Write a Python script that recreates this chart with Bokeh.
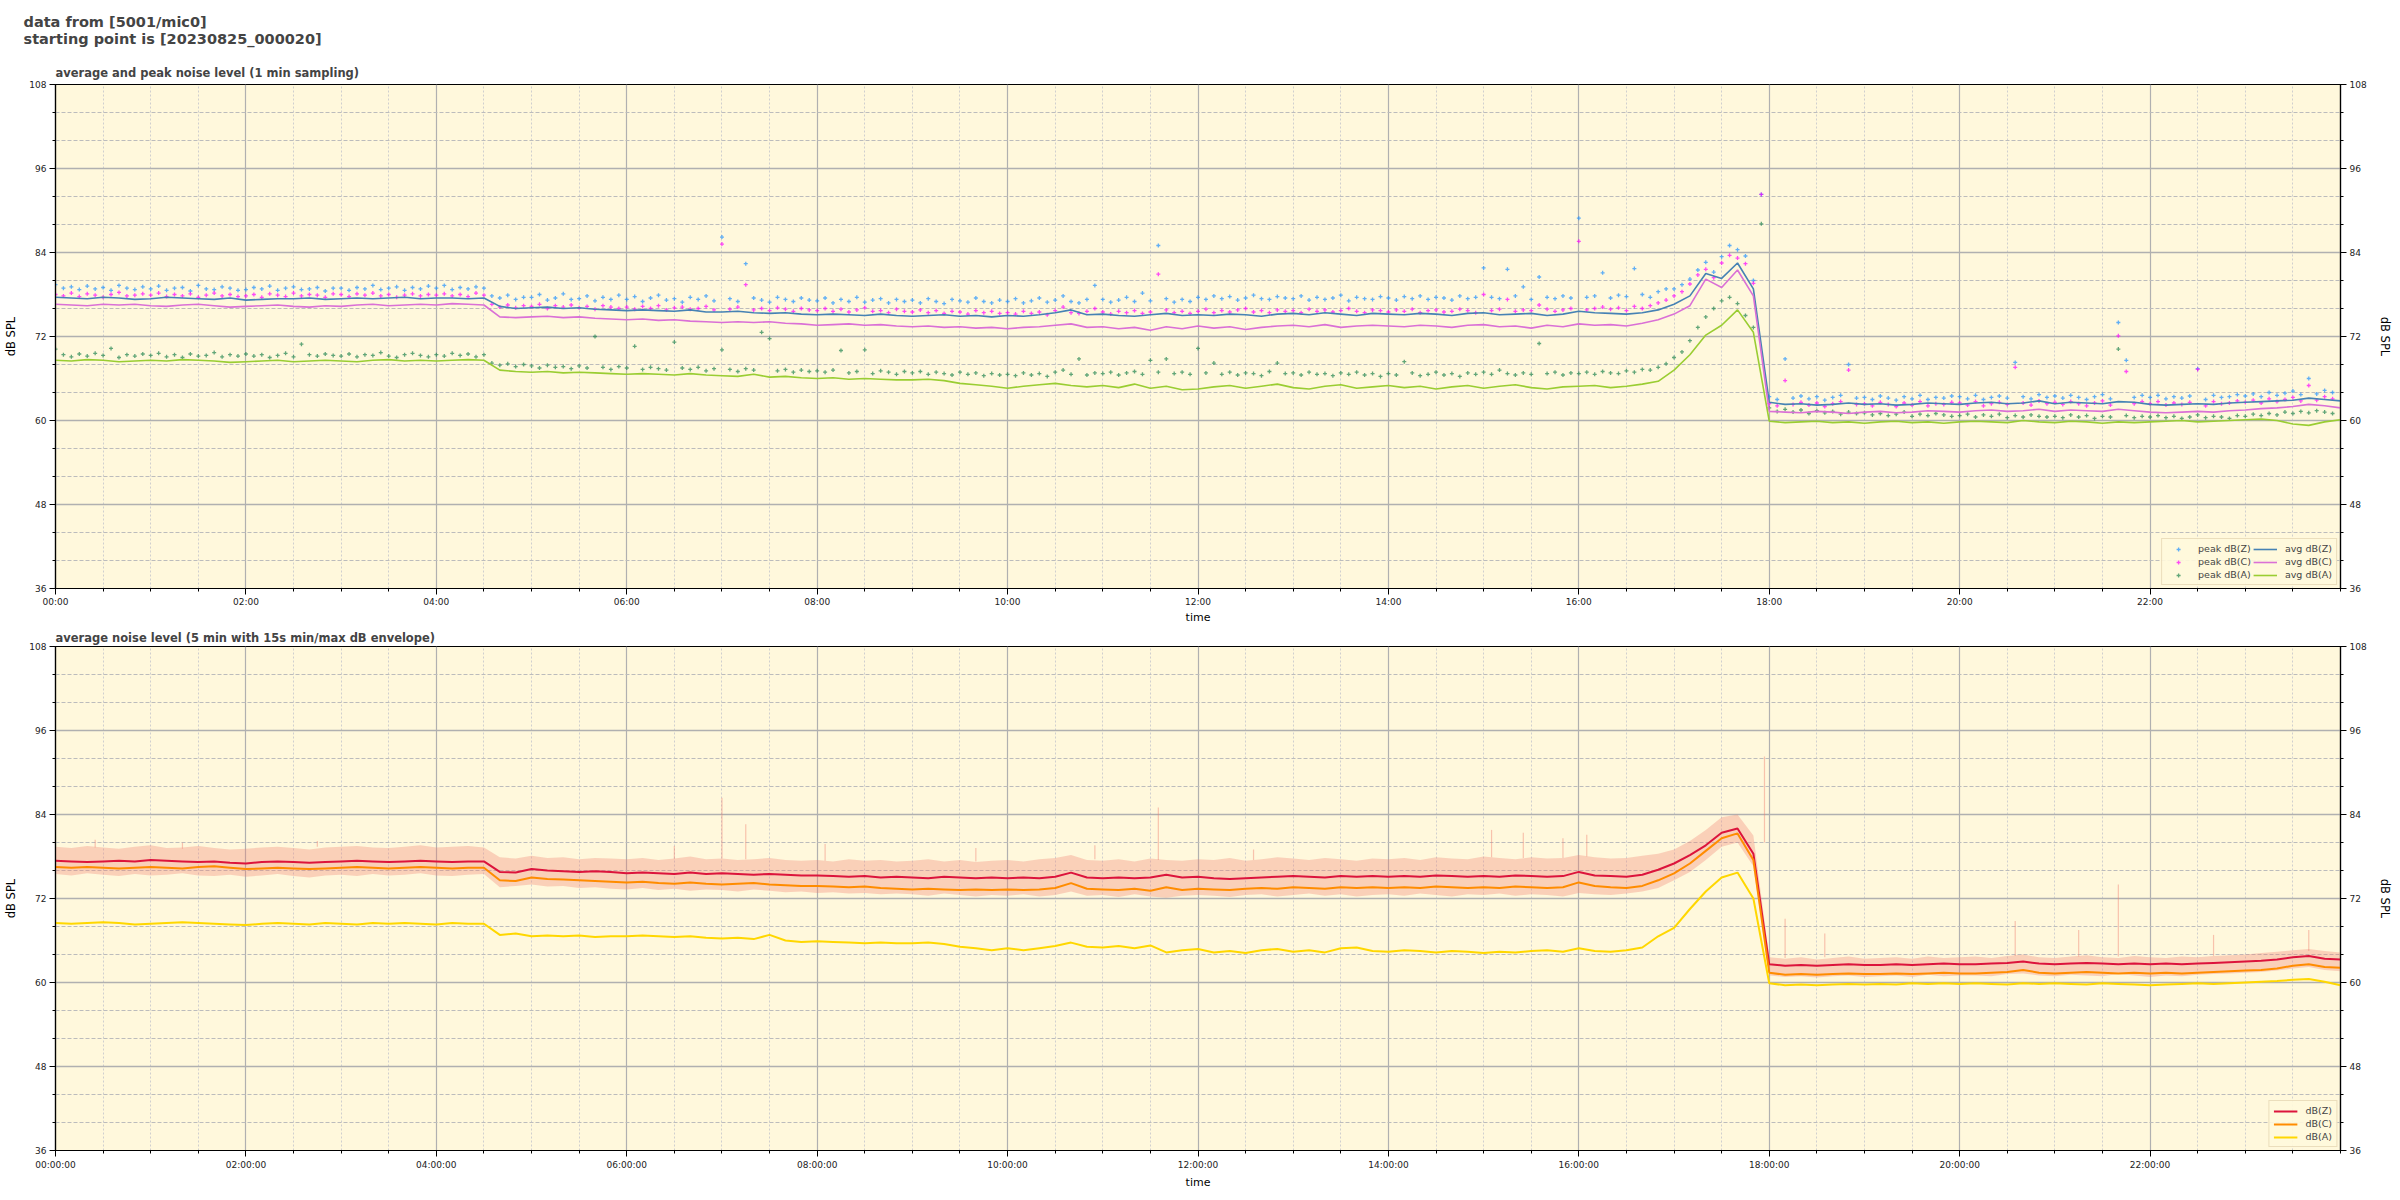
import math
from bokeh.plotting import figure
from bokeh.models import FixedTicker, LinearAxis, Range1d, Title, Legend, LegendItem
from bokeh.layouts import column
from bokeh.embed import file_html
from bokeh.resources import INLINE

# ---------------- data ----------------
main_title = "data from [5001/mic0]\nstarting point is [20230825_000020]"
title_top = "average and peak noise level (1 min sampling)"
title_bottom = "average noise level (5 min with 15s min/max dB envelope)"

x_ticks_h = [0, 2, 4, 6, 8, 10, 12, 14, 16, 18, 20, 22]
x_labels_top = ["00:00", "02:00", "04:00", "06:00", "08:00", "10:00",
                "12:00", "14:00", "16:00", "18:00", "20:00", "22:00"]
x_labels_bottom = ["00:00:00", "02:00:00", "04:00:00", "06:00:00", "08:00:00", "10:00:00",
                   "12:00:00", "14:00:00", "16:00:00", "18:00:00", "20:00:00", "22:00:00"]
y_ticks = [36, 48, 60, 72, 84, 96, 108]

minutes10 = list(range(0, 1441, 10))   # 145 samples
minutes5 = list(range(0, 1440, 5))     # 288 samples

# top plot: averages (10 min resolution)
avg_z = [
    77.6, 77.5, 77.4, 77.6, 77.5, 77.3, 77.4, 77.6, 77.5, 77.4, 77.3, 77.5, 77.2, 77.3,
    77.4, 77.4, 77.5, 77.3, 77.4, 77.5, 77.4, 77.5, 77.6, 77.4, 77.5, 77.5, 77.4, 77.5,
    76.3, 76.0, 76.1, 76.2, 76.0, 76.1, 75.9, 75.8, 75.7, 75.8, 75.7, 75.6, 75.8, 75.5, 75.5,
    75.6, 75.4, 75.3, 75.4, 75.2, 75.1, 75.2, 75.1, 75.0, 75.2, 75.0, 74.9, 75.0, 75.1, 74.9,
    75.0, 74.8, 75.0, 74.9, 75.1, 75.4, 75.8, 75.1, 75.2, 75.0, 74.9, 75.1, 75.3, 75.0, 75.1,
    75.0, 75.2, 75.1, 74.9, 75.2, 75.3, 75.1, 75.4, 75.2, 75.0, 75.3, 75.2, 75.1, 75.3, 75.2,
    75.0, 75.3, 75.4, 75.1, 75.2, 75.3, 75.0, 75.2, 75.6, 75.4, 75.3, 75.2, 75.4, 75.8,
    76.6, 77.8, 81.0, 80.3, 82.5, 78.8, 62.6,
    62.3, 62.4, 62.2, 62.3, 62.5, 62.3, 62.4, 62.2, 62.3, 62.5, 62.4, 62.3, 62.5, 62.6, 62.4,
    62.5, 62.8, 62.4, 62.6, 62.5, 62.4, 62.7, 62.6, 62.3, 62.2, 62.3, 62.4, 62.3, 62.5, 62.6,
    62.7, 62.8, 62.9, 63.2, 63.0, 62.8]
avg_c = [
    76.6, 76.5, 76.4, 76.6, 76.5, 76.6, 76.4, 76.3, 76.5, 76.6, 76.4, 76.2, 76.3, 76.4,
    76.5, 76.3, 76.2, 76.4, 76.3, 76.5, 76.6, 76.4, 76.5, 76.6, 76.5, 76.7, 76.6, 76.5,
    74.8, 74.7, 74.8, 74.9, 74.7, 74.8, 74.6, 74.5, 74.4, 74.5, 74.3, 74.4, 74.2, 74.1, 74.0,
    74.1, 74.0, 74.1, 73.9, 73.8, 73.6, 73.7, 73.8, 73.6, 73.7, 73.5, 73.4, 73.5, 73.3, 73.4,
    73.2, 73.3, 73.1, 73.3, 73.4, 73.6, 73.8, 73.3, 73.4, 73.1, 73.3, 72.9, 73.4, 73.1, 73.5,
    73.2, 73.4, 73.0, 73.3, 73.5, 73.6, 73.4, 73.7, 73.3, 73.5, 73.6, 73.5, 73.4, 73.6, 73.5,
    73.3, 73.6, 73.7, 73.4, 73.5, 73.2, 73.6, 73.4, 73.8, 73.6, 73.7, 73.5, 73.9, 74.4,
    75.2, 76.4, 80.2, 79.0, 81.5, 77.8, 61.3,
    61.2, 61.1, 61.3, 61.2, 61.0, 61.2, 61.3, 61.1, 61.2, 61.4, 61.3, 61.2, 61.4, 61.5, 61.3,
    61.4, 61.6, 61.3, 61.5, 61.4, 61.3, 61.6, 61.4, 61.2, 61.1, 61.2, 61.3, 61.2, 61.4, 61.5,
    61.7, 61.8, 62.0, 62.3, 62.1, 61.8]
avg_a = [
    68.6, 68.5, 68.7, 68.6, 68.4, 68.5, 68.6, 68.5, 68.7, 68.6, 68.5, 68.3, 68.4, 68.5,
    68.6, 68.4, 68.5, 68.6, 68.5, 68.4, 68.6, 68.7, 68.5, 68.6, 68.5, 68.6, 68.7, 68.6,
    67.2, 67.0, 66.9, 67.0, 66.8, 66.9, 66.8, 66.7, 66.6, 66.7, 66.6, 66.5, 66.7, 66.5, 66.4,
    66.3, 66.6, 66.2, 66.3, 66.1, 66.0, 66.1, 65.9, 66.0, 65.9, 65.8, 65.8, 65.9, 65.7, 65.3,
    65.1, 64.9, 64.6, 64.9, 65.1, 65.3, 65.0, 64.8, 65.0, 64.7, 65.2, 64.6, 64.9, 64.4, 64.5,
    64.8, 65.0, 64.6, 64.9, 65.2, 64.7, 64.5, 64.9, 65.1, 64.6, 64.8, 65.0, 64.7, 64.9, 64.5,
    64.8, 65.0, 64.6, 64.9, 65.1, 64.7, 64.5, 64.8, 64.9, 65.0, 64.7, 64.9, 65.2, 65.6,
    67.2, 69.4, 72.2, 73.6, 75.8, 72.6, 59.9,
    59.7, 59.8, 59.9, 59.7, 59.8, 59.6, 59.8, 59.9, 59.7, 59.8, 59.6, 59.8, 59.9, 59.8, 59.7,
    60.0, 59.8, 59.7, 59.9, 59.8, 59.6, 59.8, 59.7, 59.8, 59.9, 60.0, 59.8, 59.9, 60.0, 60.1,
    60.2, 60.0, 59.5, 59.3, 59.8, 60.1]

# top plot: peaks (5 min resolution, one row per hour)
peak_z = [
    79.4, 78.9, 79.1, 78.7, 79.2, 78.8, 79.0, 78.6, 79.3, 78.9, 78.7, 79.1,
    78.8, 79.2, 78.6, 78.9, 79.0, 78.5, 79.3, 78.8, 78.7, 79.1, 78.9, 78.6,
    78.7, 79.0, 78.8, 79.2, 78.6, 78.9, 79.1, 78.7, 78.8, 79.0, 78.5, 78.9,
    78.9, 78.6, 79.0, 78.8, 79.3, 78.7, 78.9, 79.1, 78.6, 79.0, 78.8, 79.2,
    78.9, 79.3, 78.7, 79.0, 78.8, 79.1, 78.9, 77.8, 77.5, 77.9, 77.3, 77.6,
    77.6, 78.0, 77.2, 77.5, 78.1, 77.3, 77.4, 77.8, 77.1, 77.6, 77.3, 77.9,
    77.3, 77.7, 77.0, 77.5, 77.9, 77.2, 77.4, 76.9, 77.6, 77.3, 77.8, 77.1,
    86.2, 77.4, 77.0, 82.4, 77.5, 77.2, 76.9, 77.6, 77.3, 77.0, 77.5, 77.2,
    77.1, 77.5, 76.8, 77.3, 77.0, 77.6, 76.9, 77.2, 77.4, 76.8, 77.3, 77.0,
    77.2, 76.8, 77.4, 77.0, 76.7, 77.3, 77.1, 76.9, 77.5, 77.0, 76.8, 77.2,
    77.0, 77.4, 76.8, 77.1, 77.5, 76.9, 77.2, 77.8, 77.0, 76.8, 77.3, 79.3,
    77.3, 76.9, 77.2, 77.6, 77.0, 78.2, 77.1, 85.0, 77.4, 76.9, 77.3, 77.0,
    77.6, 77.3, 77.8, 77.4, 77.7, 77.2, 77.5, 77.9, 77.4, 77.3, 77.7, 77.5,
    77.4, 77.8, 77.2, 77.6, 77.3, 77.5, 77.9, 77.1, 77.6, 77.4, 77.3, 77.7,
    77.5, 77.2, 77.7, 77.4, 77.8, 77.3, 77.6, 77.5, 77.2, 77.8, 77.4, 77.6,
    81.8, 77.6, 77.4, 81.6, 77.8, 79.1, 77.3, 80.5, 77.6, 77.4, 77.8, 77.5,
    88.9, 77.6, 77.8, 81.1, 77.5, 77.9, 77.7, 81.7, 78.0, 77.6, 78.4, 78.8,
    78.8, 79.4, 80.2, 81.5, 82.6, 81.2, 83.4, 85.0, 84.4, 83.5, 80.0, 92.3,
    63.4, 63.0, 68.8, 63.2, 63.5, 63.1, 63.4, 62.9, 63.3, 63.6, 68.0, 63.2,
    63.3, 63.0, 63.5, 63.2, 62.9, 63.4, 63.1, 63.6, 63.0, 63.3, 63.2, 63.5,
    63.4, 63.1, 63.6, 63.0, 63.3, 63.5, 63.2, 68.3, 63.4, 63.1, 63.7, 63.3,
    63.5, 63.2, 63.6, 63.3, 63.0, 63.4, 63.7, 63.1, 74.0, 68.6, 63.3, 63.6,
    63.3, 63.6, 63.1, 63.4, 63.2, 63.5, 67.4, 63.0, 63.6, 63.3, 63.4, 63.7,
    63.5, 63.8, 63.4, 64.0, 63.6, 63.9, 64.2, 63.7, 66.0, 63.8, 64.3, 64.0]
peak_c = [
    78.0, 77.8, 78.2, 77.7, 78.1, 77.9, 77.6, 78.0, 78.3, 77.8, 77.9, 78.1,
    77.9, 78.2, 77.7, 78.0, 77.8, 78.1, 77.6, 77.9, 78.2, 77.8, 78.0, 77.7,
    77.8, 78.0, 77.6, 78.1, 77.9, 77.7, 78.2, 77.8, 78.0, 77.9, 77.6, 78.1,
    78.0, 77.7, 78.1, 77.9, 78.2, 77.8, 78.0, 77.6, 77.9, 78.1, 77.8, 78.0,
    77.9, 78.1, 77.8, 78.0, 77.7, 78.2, 77.9, 76.6, 76.2, 76.5, 76.1, 76.4,
    76.3, 76.6, 76.0, 76.4, 76.2, 76.5, 76.1, 76.3, 75.9, 76.4, 76.2, 76.0,
    76.2, 75.9, 76.3, 76.0, 76.4, 75.8, 76.1, 76.2, 75.9, 76.0, 76.3, 75.8,
    85.2, 75.9, 76.2, 79.4, 75.8, 76.0, 75.7, 76.1, 75.9, 75.6, 76.0, 75.8,
    75.7, 76.0, 75.6, 75.9, 75.5, 75.8, 76.1, 75.6, 75.7, 75.4, 75.9, 75.6,
    75.5, 75.8, 75.4, 75.7, 75.3, 75.6, 75.5, 75.2, 75.7, 75.4, 75.6, 75.3,
    75.4, 75.2, 75.6, 75.3, 75.5, 75.1, 75.7, 76.2, 75.4, 75.3, 75.6, 76.0,
    75.5, 75.2, 75.6, 75.4, 75.7, 75.3, 75.5, 80.9, 75.8, 75.4, 75.6, 75.3,
    75.6, 75.9, 75.4, 75.7, 75.5, 75.8, 76.0, 75.5, 75.7, 75.4, 75.8, 75.6,
    75.7, 75.4, 75.9, 75.6, 75.8, 75.5, 75.7, 76.0, 75.6, 75.4, 75.8, 75.7,
    75.5, 75.8, 75.6, 75.9, 75.4, 75.7, 75.8, 75.5, 75.6, 75.9, 75.7, 75.4,
    78.0, 75.7, 75.9, 77.3, 75.6, 75.8, 75.7, 76.5, 75.9, 75.6, 75.8, 76.0,
    85.6, 75.8, 76.0, 76.2, 75.9, 76.1, 75.7, 76.3, 76.0, 76.4, 76.8, 77.2,
    77.8, 78.4, 79.5, 80.8, 81.6, 80.4, 82.5, 83.6, 83.2, 82.4, 79.6, 92.3,
    62.4, 62.1, 65.7, 62.3, 62.6, 62.2, 62.5, 62.0, 62.4, 62.7, 67.2, 62.3,
    62.4, 62.1, 62.6, 62.3, 62.0, 62.5, 62.2, 62.7, 62.1, 62.4, 62.3, 62.6,
    62.5, 62.2, 62.7, 62.1, 62.4, 62.6, 62.3, 67.6, 62.5, 62.2, 62.8, 62.4,
    62.6, 62.3, 62.7, 62.4, 62.1, 62.5, 62.8, 62.2, 72.1, 67.0, 62.4, 62.7,
    62.4, 62.7, 62.2, 62.5, 62.3, 62.6, 67.3, 62.1, 62.7, 62.4, 62.5, 62.8,
    62.6, 62.9, 62.5, 63.1, 62.7, 63.0, 63.3, 62.8, 65.0, 62.9, 63.4, 63.1]
peak_a = [
    70.2, 69.4, 69.1, 69.5, 69.2, 69.6, 69.3, 70.3, 69.0, 69.4, 69.2, 69.5,
    69.3, 69.6, 69.1, 69.4, 69.0, 69.5, 69.2, 69.3, 69.7, 69.1, 69.4, 69.2,
    69.5, 69.2, 69.4, 69.0, 69.3, 69.6, 69.1, 70.9, 69.4, 69.2, 69.5, 69.3,
    69.2, 69.5, 69.1, 69.4, 69.3, 69.7, 69.2, 69.0, 69.4, 69.6, 69.3, 69.1,
    69.4, 69.2, 69.6, 69.3, 69.5, 69.1, 69.4, 68.2, 67.9, 68.1, 67.7, 68.0,
    67.8, 67.5, 67.9, 67.6, 67.7, 67.4, 67.8, 67.5, 72.0, 67.6, 67.3, 67.7,
    67.5, 70.6, 67.3, 67.6, 67.4, 67.2, 71.2, 67.5, 67.3, 67.6, 67.1, 67.4,
    70.1, 67.3, 67.0, 67.4, 67.2, 72.6, 71.7, 67.1, 67.3, 66.9, 67.2, 67.0,
    67.1, 66.9, 67.2, 70.0, 66.8, 67.0, 70.1, 66.7, 67.1, 66.9, 66.6, 67.0,
    66.8, 67.0, 66.6, 66.9, 66.7, 66.5, 66.9, 66.6, 66.8, 66.4, 66.7, 66.5,
    66.6, 66.4, 66.8, 66.5, 66.7, 66.3, 66.9, 67.2, 66.6, 68.8, 66.5, 66.8,
    66.7, 66.9, 66.5, 66.8, 67.0, 66.6, 68.6, 66.9, 68.8, 66.7, 66.9, 66.6,
    70.3, 66.8, 68.2, 66.6, 66.9, 66.5, 66.8, 66.7, 66.4, 67.0, 68.2, 66.7,
    66.8, 66.5, 66.9, 66.6, 66.7, 66.4, 66.8, 66.6, 66.9, 66.5, 66.7, 66.3,
    66.7, 66.5, 68.4, 66.8, 66.4, 66.6, 66.9, 66.5, 66.7, 66.3, 66.8, 66.6,
    66.9, 66.6, 67.2, 66.7, 66.5, 66.8, 66.6, 71.0, 66.7, 66.9, 66.5, 66.8,
    66.7, 66.9, 66.6, 67.0, 66.8, 66.7, 67.1, 66.9, 67.3, 67.2, 67.6, 68.1,
    69.0, 69.8, 71.4, 73.3, 74.8, 76.0, 77.1, 77.6, 76.7, 75.0, 73.3, 88.1,
    61.8, 61.3, 61.6, 61.2, 61.5, 61.0, 61.4, 61.1, 61.3, 60.9, 61.2, 61.0,
    61.1, 60.8, 61.0, 60.7, 60.9, 61.2, 60.6, 60.9, 60.7, 61.0, 60.8, 60.6,
    60.7, 60.9, 60.5, 60.8, 60.6, 60.9, 60.4, 60.7, 60.5, 60.8, 60.6, 60.5,
    60.6, 60.4, 60.8, 60.5, 60.7, 60.3, 60.6, 60.5, 70.2, 60.7, 60.4, 60.6,
    60.5, 60.7, 60.4, 60.6, 60.3, 60.5, 60.8, 60.4, 60.6, 60.5, 60.3, 60.7,
    60.6, 60.9, 60.7, 61.0, 60.8, 61.2, 61.0, 61.3, 61.1, 61.4, 61.2, 61.0]

# bottom plot: 5-min averages (read every 10 min)
lvl_z = [
    77.4, 77.3, 77.2, 77.3, 77.4, 77.3, 77.5, 77.4, 77.3, 77.2, 77.3, 77.1, 77.0, 77.2,
    77.3, 77.2, 77.1, 77.2, 77.3, 77.4, 77.3, 77.2, 77.3, 77.4, 77.3, 77.2, 77.3, 77.3,
    75.8, 75.7, 76.2, 76.0, 75.9, 75.8, 75.9, 75.8, 75.6, 75.7, 75.6, 75.5, 75.7, 75.5, 75.6,
    75.5, 75.4, 75.5, 75.4, 75.3, 75.3, 75.2, 75.1, 75.2, 75.0, 75.1, 75.0, 74.9, 75.1, 75.0,
    74.9, 75.0, 74.9, 75.0, 74.9, 75.1, 75.7, 75.0, 74.9, 75.0, 74.9, 75.0, 75.4, 75.0, 75.1,
    74.9, 74.8, 74.9, 75.0, 75.1, 75.2, 75.1, 75.0, 75.2, 75.1, 75.2, 75.1, 75.2, 75.1, 75.3,
    75.2, 75.1, 75.2, 75.1, 75.3, 75.2, 75.1, 75.2, 75.8, 75.3, 75.2, 75.1, 75.4, 76.1,
    77.0, 78.2, 79.6, 81.4, 82.0, 78.4, 62.6,
    62.4, 62.5, 62.4, 62.5, 62.6, 62.5, 62.5, 62.6, 62.5, 62.6, 62.7, 62.6, 62.6, 62.7, 62.8,
    63.0, 62.7, 62.6, 62.7, 62.8, 62.7, 62.6, 62.7, 62.6, 62.7, 62.6, 62.7, 62.8, 62.9, 63.0,
    63.1, 63.3, 63.6, 63.8, 63.4, 63.3]
lvl_c = [
    76.5, 76.4, 76.5, 76.4, 76.3, 76.4, 76.5, 76.4, 76.3, 76.5, 76.6, 76.4, 76.2, 76.3,
    76.4, 76.3, 76.2, 76.3, 76.4, 76.5, 76.4, 76.3, 76.4, 76.5, 76.4, 76.3, 76.4, 76.4,
    74.6, 74.5, 75.0, 74.8, 74.7, 74.6, 74.5, 74.4, 74.3, 74.4, 74.2, 74.1, 74.3, 74.1, 74.0,
    74.1, 74.2, 74.0, 73.9, 73.8, 73.8, 73.7, 73.6, 73.7, 73.5, 73.4, 73.3, 73.4, 73.3, 73.2,
    73.3, 73.2, 73.3, 73.2, 73.3, 73.5, 74.2, 73.4, 73.3, 73.2, 73.4, 73.1, 73.6, 73.2, 73.4,
    73.3, 73.2, 73.4, 73.5, 73.4, 73.6, 73.5, 73.4, 73.6, 73.5, 73.6, 73.5, 73.6, 73.5, 73.7,
    73.6, 73.5, 73.6, 73.5, 73.7, 73.6, 73.5, 73.6, 74.3, 73.8, 73.6, 73.5, 73.8, 74.6,
    75.6, 77.0, 78.8, 80.6, 81.3, 77.5, 61.4,
    61.1, 61.2, 61.1, 61.2, 61.3, 61.2, 61.2, 61.3, 61.2, 61.3, 61.4, 61.3, 61.3, 61.4, 61.5,
    61.8, 61.4, 61.3, 61.4, 61.5, 61.4, 61.3, 61.4, 61.3, 61.4, 61.3, 61.4, 61.5, 61.6, 61.7,
    61.8, 62.0, 62.4, 62.6, 62.2, 62.1]
lvl_a = [
    68.5, 68.4, 68.5, 68.6, 68.5, 68.3, 68.4, 68.5, 68.6, 68.5, 68.4, 68.3, 68.2, 68.4,
    68.5, 68.4, 68.3, 68.5, 68.4, 68.3, 68.5, 68.4, 68.5, 68.4, 68.3, 68.5, 68.4, 68.4,
    66.8, 67.0, 66.6, 66.7, 66.6, 66.7, 66.5, 66.6, 66.6, 66.7, 66.6, 66.5, 66.6, 66.4, 66.3,
    66.4, 66.2, 66.8, 66.0, 65.8, 65.9, 65.8, 65.7, 65.6, 65.7, 65.6, 65.6, 65.7, 65.5, 65.1,
    64.9, 64.6, 64.9, 64.6, 64.9, 65.2, 65.7, 65.1, 65.0, 65.2, 64.9, 65.3, 64.3, 64.6, 64.8,
    64.3, 64.5, 64.2, 64.6, 64.8, 64.4, 64.6, 64.3, 64.9, 65.0, 64.5, 64.4, 64.6, 64.5, 64.3,
    64.5, 64.4, 64.2, 64.4, 64.3, 64.5, 64.6, 64.4, 64.9, 64.5, 64.4, 64.6, 65.0, 66.6,
    67.8, 70.5, 73.0, 75.0, 75.7, 72.0, 59.9,
    59.6, 59.7, 59.6, 59.7, 59.8, 59.7, 59.8, 59.7, 59.9, 59.8, 59.9, 59.8, 59.9, 59.8, 59.7,
    59.9, 59.8, 59.9, 59.8, 59.7, 59.9, 59.8, 59.7, 59.6, 59.7, 59.8, 59.9, 59.8, 59.9, 60.0,
    60.1, 60.2, 60.4, 60.5, 60.1, 59.6]

# bottom plot: 15 s min/max envelope (read every 10 min) and isolated maxima
env_max = [
    79.4, 79.2, 79.5, 79.3, 79.1, 79.4, 79.6, 79.2, 79.3, 79.5, 79.2, 79.0, 79.1, 79.3,
    79.4, 79.2, 79.0, 79.3, 79.4, 79.5, 79.3, 79.2, 79.4, 79.6, 79.3, 79.4, 79.5, 79.3,
    77.9, 77.7, 78.1, 77.8, 77.9, 77.6, 77.8, 77.7, 77.6, 77.8, 77.5, 77.7, 78.0, 77.6, 77.7,
    77.5, 77.6, 77.8, 77.5, 77.4, 77.5, 77.3, 77.6, 77.4, 77.5, 77.3, 77.4, 77.6, 77.3, 77.5,
    77.2, 77.4, 77.5, 77.3, 77.6, 77.8, 78.2, 77.5, 77.4, 77.6, 77.3, 77.7, 77.5, 77.4, 77.6,
    77.5, 77.8, 77.4, 77.6, 77.9, 77.7, 77.5, 77.8, 77.6, 77.4, 77.7, 77.6, 77.8, 77.5, 77.9,
    77.7, 77.6, 78.0, 77.8, 77.6, 77.9, 77.7, 77.8, 78.2, 77.9, 77.7, 77.8, 78.1, 78.4,
    79.0, 80.2, 81.8, 83.6, 84.0, 81.0, 63.6,
    63.4, 63.6, 63.3, 63.5, 63.7, 63.4, 63.5, 63.6, 63.4, 63.7, 63.5, 63.6, 63.7, 63.5, 63.8,
    64.0, 63.6, 63.5, 63.7, 63.9, 63.6, 63.5, 63.8, 63.6, 63.5, 63.7, 63.6, 63.8, 63.9, 64.0,
    64.2, 64.4, 64.6, 64.8, 64.5, 64.3]
env_min = [
    75.5, 75.3, 75.6, 75.4, 75.2, 75.5, 75.3, 75.4, 75.6, 75.3, 75.2, 75.4, 75.1, 75.3,
    75.5, 75.2, 75.0, 75.3, 75.4, 75.2, 75.5, 75.3, 75.4, 75.6, 75.3, 75.2, 75.4, 75.5,
    73.6, 73.8, 74.0, 73.7, 73.8, 73.5, 73.6, 73.4, 73.3, 73.5, 73.2, 73.4, 73.1, 73.3, 73.2,
    73.0, 73.3, 73.1, 72.9, 73.0, 72.8, 72.9, 72.7, 72.8, 72.6, 72.7, 72.6, 72.4, 72.7, 72.5,
    72.3, 72.5, 72.4, 72.6, 72.3, 72.5, 73.0, 72.4, 72.5, 72.2, 72.6, 72.3, 72.1, 72.4, 72.5,
    72.4, 72.2, 72.5, 72.6, 72.3, 72.5, 72.7, 72.4, 72.6, 72.3, 72.5, 72.6, 72.4, 72.7, 72.5,
    72.3, 72.6, 72.5, 72.7, 72.4, 72.6, 72.5, 72.3, 72.8, 72.6, 72.5, 72.7, 73.0, 73.5,
    74.6, 75.8, 77.5, 79.4, 80.0, 76.6, 61.0,
    60.8, 60.9, 60.7, 60.9, 61.0, 60.8, 60.9, 61.0, 60.8, 61.1, 60.9, 61.0, 61.0, 60.9, 61.2,
    61.3, 61.0, 60.9, 61.1, 61.0, 60.9, 61.2, 61.0, 60.8, 61.0, 60.9, 61.1, 61.2, 61.3, 61.4,
    61.5, 61.7, 62.0, 62.2, 61.8, 61.6]
spike_minutes = [25, 80, 165, 390, 420, 435, 485, 580, 655, 695, 755, 905, 925, 950, 965,
                 1077, 1090, 1115, 1235, 1275, 1300, 1360, 1420]
spike_base = [79.3, 79.1, 79.4, 77.6, 77.7, 77.6, 77.4, 77.3, 77.6, 77.5, 77.5, 77.9, 77.8,
              77.8, 78.0, 80.0, 63.5, 63.6, 63.8, 63.7, 63.7, 63.8, 64.5]
spike_top = [80.4, 80.0, 80.2, 79.5, 86.4, 82.6, 79.8, 79.2, 79.6, 85.0, 79.0, 81.8, 81.4,
             80.6, 81.1, 92.3, 69.1, 67.0, 68.8, 67.5, 74.0, 66.8, 67.5]

for arr in (avg_z, avg_c, avg_a, lvl_z, lvl_c, lvl_a, env_max, env_min):
    assert len(arr) == len(minutes10), len(arr)
for arr in (peak_z, peak_c, peak_a):
    assert len(arr) == len(minutes5), len(arr)
assert len(spike_minutes) == len(spike_base) == len(spike_top)

# ---------------- styling ----------------
FONT = "DejaVu Sans"
BG = "#FFF8DC"
FW, FH = 2285, 504

h10 = [m / 60 for m in minutes10]
h5 = [m / 60 for m in minutes5]
hs = [m / 60 for m in spike_minutes]


def make_fig(xlabels, border_bottom, label_standoff, axis_label_standoff, lh):
    p = figure(title=None, frame_width=FW, frame_height=FH,
               x_range=Range1d(0, 24), y_range=Range1d(36, 108),
               output_backend="svg", toolbar_location=None,
               min_border_left=55, min_border_right=44, min_border_top=0,
               min_border_bottom=border_bottom)
    p.background_fill_color = BG
    p.border_fill_color = "white"
    p.outline_line_color = "black"
    p.outline_line_width = 1.2
    xt = FixedTicker(ticks=x_ticks_h, minor_ticks=[i * 0.5 for i in range(49)])
    yt = FixedTicker(ticks=y_ticks, minor_ticks=list(range(36, 109, 4)))
    p.xaxis.ticker = xt
    p.xgrid.ticker = xt
    p.yaxis.ticker = yt
    p.ygrid.ticker = yt
    p.xaxis.major_label_overrides = {h: s for h, s in zip(x_ticks_h, xlabels)}
    p.xaxis.axis_label = "time"
    p.yaxis.axis_label = "dB SPL"
    right = LinearAxis(ticker=yt, axis_label="dB SPL")
    p.add_layout(right, "right")
    for ax in p.axis:
        ax.axis_line_color = "black"
        ax.axis_line_width = 1.2
        ax.major_tick_out = 6
        ax.major_tick_in = 0
        ax.minor_tick_out = 3
        ax.minor_tick_in = 0
        ax.major_tick_line_color = "black"
        ax.minor_tick_line_color = "black"
        ax.major_label_text_font = FONT
        ax.major_label_text_font_size = "9px"
        ax.major_label_text_color = "#222222"
        ax.major_label_standoff = 3
        ax.axis_label_text_font = FONT
        ax.axis_label_text_font_style = "normal"
        ax.axis_label_text_color = "black"
    p.xaxis.axis_label_text_font_size = "11px"
    p.xaxis.major_label_standoff = label_standoff
    p.xaxis.axis_label_standoff = axis_label_standoff
    p.xaxis.major_label_text_line_height = lh
    p.xaxis.axis_label_text_line_height = lh
    for ax in p.yaxis:
        ax.axis_label_text_font_size = "11.5px"
        ax.axis_label_standoff = 8
    p.ygrid.grid_line_color = "#b0b0b0"
    p.ygrid.grid_line_width = 1.6
    p.ygrid.minor_grid_line_color = "#bcbcbc"
    p.ygrid.minor_grid_line_dash = "4 2"
    p.ygrid.minor_grid_line_width = 1
    p.xgrid.grid_line_color = "#b0b0b0"
    p.xgrid.grid_line_width = 1.2
    p.xgrid.minor_grid_line_color = "#cfcfcf"
    p.xgrid.minor_grid_line_dash = "2 2"
    p.xgrid.minor_grid_line_width = 1
    return p


def style_legend(leg):
    leg.location = "bottom_right"
    leg.margin = 3
    leg.padding = 4
    leg.spacing = 2
    leg.label_text_font = FONT
    leg.label_text_font_size = "9.5px"
    leg.label_height = 10
    leg.glyph_height = 10
    leg.glyph_width = 24
    leg.label_standoff = 8
    leg.background_fill_color = BG
    leg.background_fill_alpha = 0.9
    leg.border_line_color = "#d8c49c"
    leg.border_line_width = 1


# ---------------- top figure ----------------
p1 = make_fig(x_labels_top, 22, 2, 1, 0.75)
p1.add_layout(Title(text=title_top, align="left", text_font=FONT, text_font_size="11.5px",
                    text_font_style="bold", standoff=10), "above")
p1.add_layout(Title(text=main_title, align="left", offset=-32, text_font=FONT,
                    text_font_size="14.5px", text_font_style="bold", standoff=22,
                    text_line_height=1.1), "above")

r_pz = p1.scatter(h5, peak_z, marker="cross", size=4, line_color="#1E90FF", line_alpha=0.7, line_width=1.3)
r_pc = p1.scatter(h5, peak_c, marker="cross", size=4, line_color="#FF00FF", line_alpha=0.7, line_width=1.3)
r_pa = p1.scatter(h5, peak_a, marker="cross", size=4, line_color="#2E8B57", line_alpha=0.75, line_width=1.3)
r_az = p1.line(h10, avg_z, line_color="#4682B4", line_width=1.6)
r_ac = p1.line(h10, avg_c, line_color="#DA70D6", line_width=1.6)
r_aa = p1.line(h10, avg_a, line_color="#9ACD32", line_width=1.6)

leg1 = Legend(items=[
    LegendItem(label="peak dB(Z)", renderers=[r_pz]),
    LegendItem(label="peak dB(C)", renderers=[r_pc]),
    LegendItem(label="peak dB(A)", renderers=[r_pa]),
    LegendItem(label="avg dB(Z)", renderers=[r_az]),
    LegendItem(label="avg dB(C)", renderers=[r_ac]),
    LegendItem(label="avg dB(A)", renderers=[r_aa]),
], ncols=2)
style_legend(leg1)
p1.add_layout(leg1)

# ---------------- bottom figure ----------------
p2 = make_fig(x_labels_bottom, 36, 3, 3, 1.2)
p2.add_layout(Title(text=title_bottom, align="left", text_font=FONT, text_font_size="11.5px",
                    text_font_style="bold", standoff=4, text_line_height=0.9), "above")

p2.varea(x=h10, y1=env_min, y2=env_max, fill_color="#F08070", fill_alpha=0.33)
p2.segment(x0=hs, y0=spike_base, x1=hs, y1=spike_top, line_color="#F08070", line_alpha=0.45, line_width=1.2)
r_z = p2.line(h10, lvl_z, line_color="#DC143C", line_width=2)
r_c = p2.line(h10, lvl_c, line_color="#FF8C00", line_width=2)
r_a = p2.line(h10, lvl_a, line_color="#FFD700", line_width=2)

leg2 = Legend(items=[
    LegendItem(label="dB(Z)", renderers=[r_z]),
    LegendItem(label="dB(C)", renderers=[r_c]),
    LegendItem(label="dB(A)", renderers=[r_a]),
])
style_legend(leg2)
p2.add_layout(leg2)

layout = column(p1, p2, spacing=0)
open("out.html", "w").write(file_html(layout, INLINE, title="noise level"))
